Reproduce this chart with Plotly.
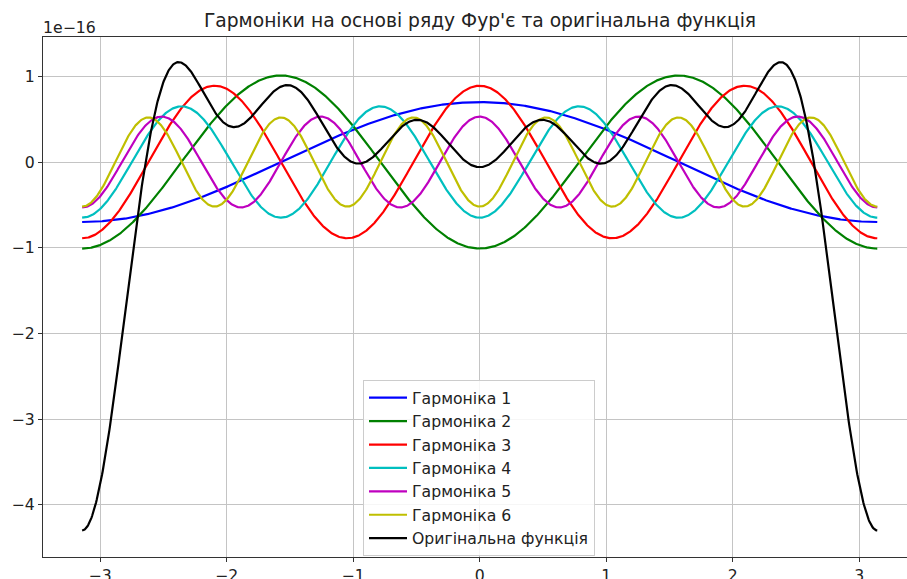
import numpy as np
import plotly.graph_objects as go

# Harmonic orders and cosine coefficients (units of 1e-16)
harmonic_orders = [1, 2, 3, 4, 5, 6]
harmonic_coeffs = [0.70, -1.01, 0.89, -0.65, 0.53, -0.52]
harmonic_names = ["Гармоніка 1", "Гармоніка 2", "Гармоніка 3",
                  "Гармоніка 4", "Гармоніка 5", "Гармоніка 6"]
original_name = "Оригінальна функція"
title_text = "Гармоніки на основі ряду Фур'є та оригінальна функція"

x_tick_vals = [-3, -2, -1, 0, 1, 2, 3]
x_tick_text = ["−3", "−2", "−1", "0", "1", "2", "3"]
y_tick_vals = [1, 0, -1, -2, -3, -4]
y_tick_text = ["1", "0", "−1", "−2", "−3", "−4"]

colors = ["#0000ff", "#008000", "#ff0000", "#00bfbf", "#bf00bf", "#bfbf00"]

x = np.linspace(-np.pi, np.pi, 1200)

fig = go.Figure()
total = np.zeros_like(x)
for k, a, name, c in zip(harmonic_orders, harmonic_coeffs, harmonic_names, colors):
    y = a * np.cos(k * x)
    total += y
    fig.add_trace(go.Scatter(x=x, y=y, mode="lines", name=name,
                             line=dict(color=c, width=2.2), legendgroup=name))
fig.add_trace(go.Scatter(x=x, y=total, mode="lines", name=original_name,
                         line=dict(color="#000000", width=2.2), legendgroup=original_name))

font = "DejaVu Sans, Verdana, sans-serif"
W, H = 907, 579
L, R, T, B = 43, 0, 37, 22
plot_w = W - L - R
plot_h = H - T - B
px_per_x = 126.55
x0_px = 479.7

fig.update_layout(
    width=W, height=H,
    margin=dict(l=L, r=R, t=T, b=B, autoexpand=False),
    paper_bgcolor="white", plot_bgcolor="white",
    font=dict(family=font, size=15.7, color="#222"),
    title=dict(text=title_text, x=(480 - L) / plot_w, xref="paper", xanchor="center",
               y=1 - 20 / H, yref="container", yanchor="middle", automargin=False,
               font=dict(family=font, size=18.7, color="#222")),
    showlegend=True,
    legend=dict(x=(363 - L) / plot_w, xanchor="left", y=(H - B - 380) / plot_h, yanchor="top",
                bgcolor="rgba(255,255,255,0.85)", bordercolor="#cccccc", borderwidth=1,
                font=dict(family=font, size=15.7, color="#222"),
                tracegroupgap=3, traceorder="normal", itemwidth=38),
    xaxis=dict(range=[(L - x0_px) / px_per_x, (W - R - x0_px) / px_per_x],
               tickvals=x_tick_vals, ticktext=x_tick_text, automargin=False,
               showgrid=True, gridcolor="#c4c4c4", gridwidth=1,
               zeroline=False, showline=True, linecolor="#333", linewidth=1.2,
               mirror=True, ticks="outside", ticklen=4, tickcolor="#333",
               tickfont=dict(family=font, size=15.7, color="#222")),
    yaxis=dict(range=[-4.61, 1.459],
               tickvals=y_tick_vals, ticktext=y_tick_text, automargin=False,
               showgrid=True, gridcolor="#c4c4c4", gridwidth=1,
               zeroline=False, showline=True, linecolor="#333", linewidth=1.2,
               mirror=False, ticks="outside", ticklen=4, tickcolor="#333",
               tickfont=dict(family=font, size=15.7, color="#222")),
    annotations=[dict(text="1e−16", xref="paper", yref="paper", x=0, y=(H - B - 27) / plot_h,
                      xanchor="left", yanchor="middle", showarrow=False, xshift=-2,
                      font=dict(family=font, size=15.7, color="#222"))],
)

fig.write_html("out.html", config={"displayModeBar": False},
               post_script="document.body.style.margin='0';document.body.style.overflow='hidden';")
